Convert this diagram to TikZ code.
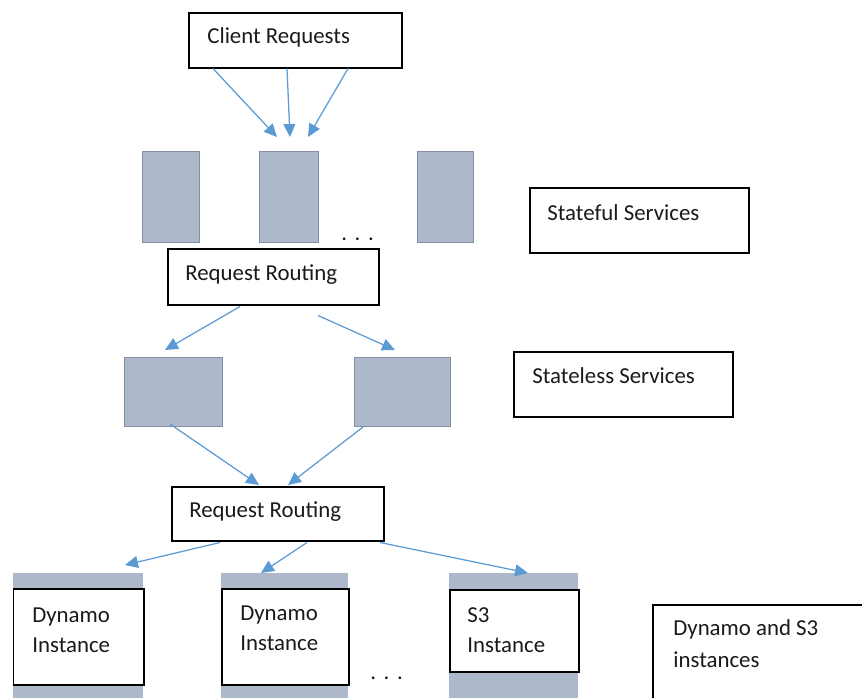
\documentclass[tikz,border=0pt]{standalone}
\usepackage{fontspec}
\setmainfont{Carlito}
\usetikzlibrary{calc,arrows.meta}
\definecolor{slate}{HTML}{ADB9CA}
\definecolor{slateedge}{HTML}{8490A2}
\definecolor{arrowblue}{HTML}{5B9BD5}
\definecolor{ink}{HTML}{1A1A1A}
\tikzset{
  blackbox/.style={draw=black, line width=0.03cm, fill=white, inner sep=0pt},
  greyrect/.style={draw=slateedge, line width=0.02cm, fill=slate, inner sep=0pt},
  greycol/.style={fill=slate, draw=none, inner sep=0pt},
  txt/.style={inner sep=0pt, anchor=base west, text=ink, font=\fontsize{13}{17}\selectfont, align=left},
  flow/.style={draw=arrowblue, line width=0.025cm, -{Triangle[length=0.26cm,width=0.24cm]}},
  box/.style n args={4}{minimum width=#3*0.02cm-#1*0.02cm, minimum height=#4*0.02cm-#2*0.02cm}
}
\begin{document}
\begin{tikzpicture}[x=0.02cm,y=-0.02cm]
\useasboundingbox (0,0) rectangle (862,697);
% boxes (x1,y1,x2,y2 in px)
\node[blackbox, box={188}{12}{401}{67}, anchor=north west] (cr) at (188,12) {};
\node[greyrect, box={142}{151}{199}{242}, anchor=north west] (s1) at (142,151) {};
\node[greyrect, box={259}{151}{318}{242}, anchor=north west] (s2) at (259,151) {};
\node[greyrect, box={417}{151}{473}{242}, anchor=north west] (s3) at (417,151) {};
\node[blackbox, box={167}{248}{378}{304}, anchor=north west] (rr1) at (167,248) {};
\node[blackbox, box={529}{187}{748}{252}, anchor=north west] (sfs) at (529,187) {};
\node[greyrect, box={124}{357}{222}{426}, anchor=north west] (l1) at (124,357) {};
\node[greyrect, box={354}{357}{450}{426}, anchor=north west] (l2) at (354,357) {};
\node[blackbox, box={513}{351}{732}{416}, anchor=north west] (sls) at (513,351) {};
\node[blackbox, box={171}{486}{383}{540}, anchor=north west] (rr2) at (171,486) {};
\node[greycol, box={13}{573}{143}{705}, anchor=north west] (c1) at (13,573) {};
\node[greycol, box={221}{573}{348}{705}, anchor=north west] (c2) at (221,573) {};
\node[greycol, box={449}{573}{578}{705}, anchor=north west] (c3) at (449,573) {};
\node[blackbox, box={13}{588}{143}{684}, anchor=north west] (w1) at (13,588) {};
\node[blackbox, box={221}{588}{348}{684}, anchor=north west] (w2) at (221,588) {};
\node[blackbox, box={449}{589}{578}{671}, anchor=north west] (w3) at (449,589) {};
\node[blackbox, box={652}{604}{872}{710}, anchor=north west] (ds) at (652,604) {};
% texts
\node[txt] (tcr) at (207,43) {Client Requests};
\node[txt] (tsfs) at (547,220) {Stateful Services};
\node[txt] (trr1) at (185,280) {Request Routing};
\node[txt] (tsls) at (532,383) {Stateless Services};
\node[txt] (trr2) at (189,517) {Request Routing};
\node[txt] (tw1) at (32,622) {Dynamo};
\node[txt] (tw1b) at (32,652) {Instance};
\node[txt] (tw2) at (240,620) {Dynamo};
\node[txt] (tw2b) at (240,650) {Instance};
\node[txt] (tw3) at (467,622) {S3};
\node[txt] (tw3b) at (467,652) {Instance};
\node[txt] (tds) at (673,635) {Dynamo and S3};
\node[txt] (tdsb) at (673,667) {instances};
\node[txt] (dots1) at (341,240) {.\,\,.\,\,.};
\node[txt] (dots2) at (370,679) {.\,\,.\,\,.};
% connectors
\draw[flow] ($(cr.south west)+(25,0)$) -- ($(s2.north west)+(18,-14)$);
\draw[flow] ($(cr.south west)+(99,0)$) -- ($(s2.north west)+(31,-14)$);
\draw[flow] ($(cr.south west)+(160,0)$) -- ($(s2.north west)+(49,-14)$);
\draw[flow] ($(rr1.south west)+(73,1)$) -- ($(l1.north west)+(41,-7)$);
\draw[flow] ($(rr1.south west)+(151,10)$) -- ($(l2.north west)+(41,-7)$);
\draw[flow] ($(l1.south west)+(46,-3)$) -- ($(rr2.north west)+(88,-1)$);
\draw[flow] ($(l2.south west)+(9,0)$) -- ($(rr2.north west)+(117,-1)$);
\draw[flow] ($(rr2.south west)+(49,1)$) -- ($(c1.north west)+(112,-8)$);
\draw[flow] ($(rr2.south west)+(136,1)$) -- ($(c2.north west)+(40,0)$);
\draw[flow] ($(rr2.south west)+(209,1)$) -- ($(c3.north west)+(79,0)$);
\end{tikzpicture}
\end{document}
